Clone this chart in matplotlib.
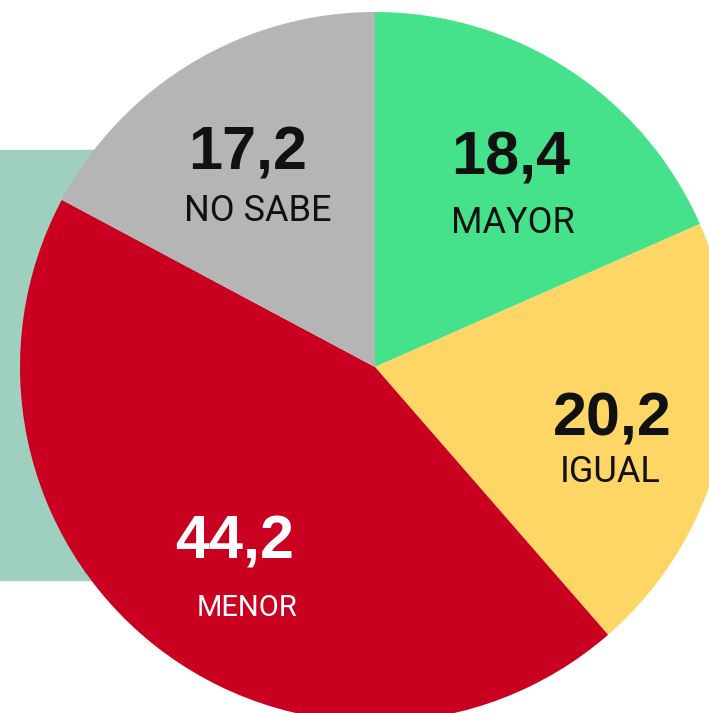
import numpy as np
import matplotlib.pyplot as plt
from matplotlib.patches import Rectangle

# data
labels = ["MAYOR", "IGUAL", "MENOR", "NO SABE"]
values = [18.4, 20.2, 44.2, 17.2]
colors = ["#45E28B", "#FDD666", "#C9001F", "#B5B5B5"]
text_colors = ["#111111", "#111111", "#FFFFFF", "#111111"]

W, H = 709, 713
fig = plt.figure(figsize=(W / 100, H / 100), dpi=100)
ax = fig.add_axes([0, 0, 1, 1])

cx, cy, R = 375, H - 367, 355

ax.add_patch(Rectangle((0, H - 580), 200, 430, color="#9ECFBF", zorder=0))

wedges, _ = ax.pie(values, colors=colors, startangle=90, counterclock=False,
                   center=(cx, cy), radius=R, frame=True,
                   wedgeprops=dict(linewidth=0, zorder=2))
ax.set_xlim(0, W)
ax.set_ylim(0, H)
ax.set_aspect("auto")
ax.axis("off")

dists = [0.70, 0.685, 0.635, 0.70]
lab_dy = [64, 52, 65, 57]
lab_dx = [2, -2, 12, 11]
lab_size = [26, 26, 21, 26]

for w, v, lab, tc, d, dy, dx, fs in zip(wedges, values, labels, text_colors,
                                         dists, lab_dy, lab_dx, lab_size):
    ang = np.deg2rad((w.theta1 + w.theta2) / 2)
    x = w.center[0] + d * R * np.cos(ang)
    y = w.center[1] + d * R * np.sin(ang)
    ax.text(x, y, f"{v:.1f}".replace(".", ","), ha="center", va="center",
            fontsize=44, fontweight="bold", color=tc,
            family="Liberation Sans", zorder=3)
    ax.text(x + dx, y - dy, lab, ha="center", va="center", fontsize=fs,
            color=tc, family="Roboto", fontstretch="condensed",
            zorder=3)

fig.savefig("out.png", dpi=100)
